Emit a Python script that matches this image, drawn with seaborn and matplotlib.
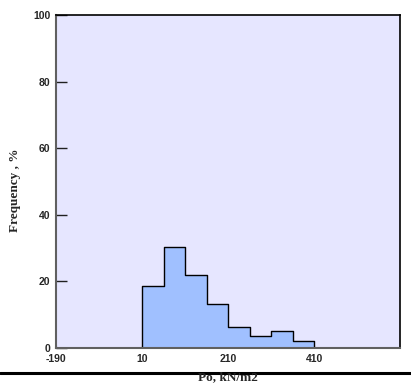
import matplotlib
matplotlib.use("Agg")
import matplotlib.pyplot as plt
import seaborn as sns
import numpy as np
from matplotlib.lines import Line2D

# Data
bin_edges = [10, 60, 110, 160, 210, 260, 310, 360, 410]
bin_centers = [35, 85, 135, 185, 235, 285, 335, 385]
freq_pct = [18.6, 30.2, 22.0, 13.1, 6.4, 3.6, 5.1, 2.0]
x_ticks = [-190, 10, 210, 410]
y_ticks = [0, 20, 40, 60, 80, 100]

sns.set_theme(style="white")
plt.rcParams['font.family'] = ['Liberation Sans', 'DejaVu Sans']

fig = plt.figure(figsize=(4.11, 3.83), dpi=100)
ax = fig.add_axes([56/411, (383-348)/383, (400-56)/411, (348-15)/383])
ax.set_facecolor("#E6E6FF")

sns.histplot(x=bin_centers, weights=freq_pct, bins=bin_edges, element="step",
             fill=True, color="#A0C0FF", edgecolor="black", linewidth=1.0,
             alpha=1.0, ax=ax)

ax.set_xlim(-190, 610)
ax.set_ylim(0, 100)
ax.set_xticks(x_ticks)
ax.set_yticks(y_ticks)
ax.set_xticklabels([str(t) for t in x_ticks], fontsize=7.5, fontweight="bold")
ax.set_yticklabels([str(t) for t in y_ticks], fontsize=7.5, fontweight="bold")
ax.tick_params(axis="y", direction="in", length=8, width=1, color="#202020", pad=4, left=True)
ax.tick_params(axis="x", direction="in", length=2, width=0.8, color="#606060", pad=4.5, bottom=True)

for s in ["top", "right"]:
    ax.spines[s].set_color("black")
    ax.spines[s].set_linewidth(1.2)
for s in ["left", "bottom"]:
    ax.spines[s].set_color("#606060")
    ax.spines[s].set_linewidth(1.5)

ax.set_ylabel("Frequency , %", fontsize=9.5, fontweight="bold", family="Liberation Serif", va="center")
ax.yaxis.set_label_coords(-0.119, 0.474)
ax.set_xlabel("Po, kN/m2", fontsize=9.5, fontweight="bold", family="Liberation Serif", va="center")
ax.xaxis.set_label_coords(0.5, -0.087)

fig.add_artist(Line2D([0, 1], [(383-372.5)/383]*2, transform=fig.transFigure,
                      color="black", linewidth=2.2, zorder=0))

fig.savefig("out.png", dpi=100)
